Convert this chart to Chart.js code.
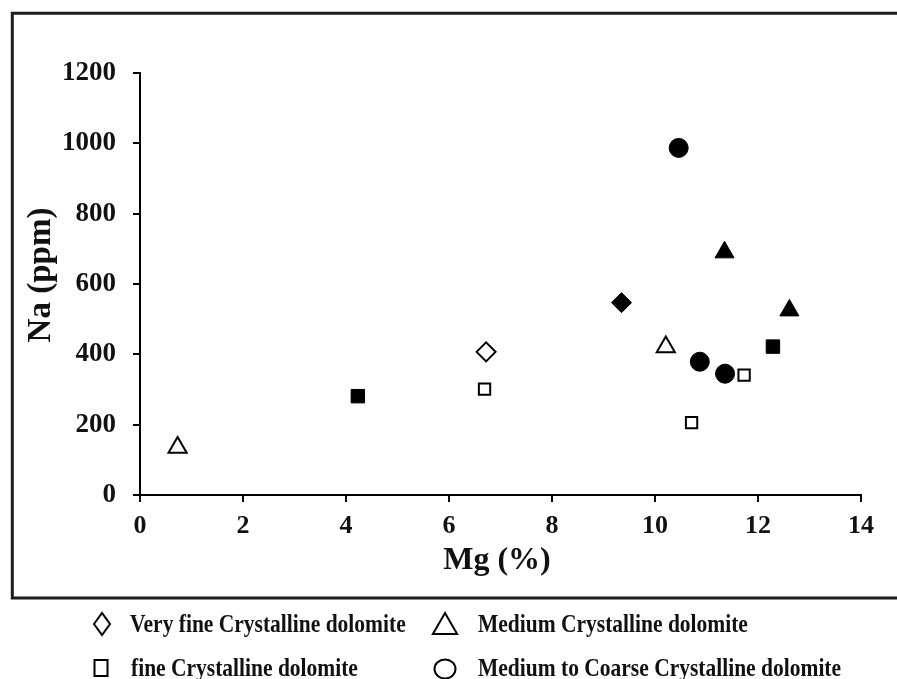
<!DOCTYPE html>
<html>
<head>
<meta charset="utf-8">
<script src="https://cdn.jsdelivr.net/npm/chart.js@4/dist/chart.umd.min.js"></script>
<style>
  html, body { margin: 0; padding: 0; background: #ffffff; }
  #wrap { width: 897px; height: 679px; position: relative; }
</style>
</head>
<body>
<div id="wrap"><canvas id="c" width="897" height="679"></canvas></div>
<script>
// Mg (%) vs Na (ppm) for the dolomite textures.
// Open symbols and solid symbols of each texture are kept as separate series.
const xTicks = [0, 2, 4, 6, 8, 10, 12, 14];
const yTicks = [0, 200, 400, 600, 800, 1000, 1200];

const veryFineOpenMg = [6.72];
const veryFineOpenNa = [407];
const veryFineSolidMg = [9.35];
const veryFineSolidNa = [547];

const fineOpenMg = [6.69, 10.71, 11.73];
const fineOpenNa = [301, 206, 341];
const fineSolidMg = [4.23, 12.29];
const fineSolidNa = [281, 422];

const mediumOpenMg = [0.73, 10.21];
const mediumOpenNa = [135, 421];
const mediumSolidMg = [11.35, 12.61];
const mediumSolidNa = [690, 525];

const coarseSolidMg = [10.46, 10.87, 11.36];
const coarseSolidNa = [987, 379, 345];

const legendNames = [
  'Very fine Crystalline dolomite',
  'Medium Crystalline dolomite',
  'fine Crystalline dolomite',
  'Medium to Coarse Crystalline dolomite'
];

const SERIF = '"Liberation Serif", "Times New Roman", Times, serif';
const INK = '#111111';

function pts(xs, ys) { return xs.map((x, i) => ({ x: x, y: ys[i] })); }

function series(label, xs, ys, style, radius, solid) {
  return {
    label: label,
    data: pts(xs, ys),
    pointStyle: style,
    pointRadius: radius,
    pointHoverRadius: radius,
    backgroundColor: solid ? '#000000' : '#ffffff',
    borderColor: '#000000',
    borderWidth: solid ? 1 : 2,
    showLine: false
  };
}

const datasets = [
  series(legendNames[0], veryFineOpenMg, veryFineOpenNa, 'rectRot', 9.5, false),
  series(legendNames[0] + ' (solid)', veryFineSolidMg, veryFineSolidNa, 'rectRot', 10, true),
  series(legendNames[2], fineOpenMg, fineOpenNa, 'rect', 8, false),
  series(legendNames[2] + ' (solid)', fineSolidMg, fineSolidNa, 'rect', 9.5, true),
  series(legendNames[1], mediumOpenMg, mediumOpenNa, 'triangle', 10.5, false),
  series(legendNames[1] + ' (solid)', mediumSolidMg, mediumSolidNa, 'triangle', 11, true),
  series(legendNames[3] + ' (solid)', coarseSolidMg, coarseSolidNa, 'circle', 9.5, true)
];

// Frame around the plot (its right side runs off the canvas).
const framePlugin = {
  id: 'frame',
  beforeDraw(chart) {
    const ctx = chart.ctx;
    ctx.save();
    ctx.fillStyle = '#ffffff';
    ctx.fillRect(0, 0, chart.width, chart.height);
    ctx.strokeStyle = '#1c1c1c';
    ctx.lineWidth = 3;
    ctx.beginPath();
    ctx.moveTo(chart.width, 13.3);
    ctx.lineTo(12.3, 13.3);
    ctx.lineTo(12.3, 598);
    ctx.lineTo(chart.width, 598);
    ctx.stroke();
    ctx.restore();
  }
};

// Axis titles.
const titlePlugin = {
  id: 'axisTitles',
  afterDraw(chart) {
    const ctx = chart.ctx;
    ctx.save();
    ctx.fillStyle = INK;
    ctx.textAlign = 'center';
    ctx.textBaseline = 'middle';
    ctx.font = 'bold 32px ' + SERIF;
    ctx.fillText('Mg (%)', 497, 561);
    ctx.translate(41, 275);
    ctx.rotate(-Math.PI / 2);
    ctx.font = 'bold 33px ' + SERIF;
    ctx.fillText('Na (ppm)', 0, 0);
    ctx.restore();
  }
};

// Two-column key below the frame.
const keyPlugin = {
  id: 'key',
  afterDraw(chart) {
    const ctx = chart.ctx;
    ctx.save();
    ctx.strokeStyle = '#000000';
    ctx.fillStyle = '#ffffff';
    ctx.lineWidth = 2;

    // diamond
    ctx.beginPath();
    ctx.moveTo(102 - 8, 624);
    ctx.lineTo(102, 624 - 11);
    ctx.lineTo(102 + 8, 624);
    ctx.lineTo(102, 624 + 11);
    ctx.closePath();
    ctx.fill(); ctx.stroke();

    // triangle
    const tr = 14;
    ctx.beginPath();
    ctx.moveTo(445, 627 - tr);
    ctx.lineTo(445 + tr * Math.sqrt(3) / 2, 627 + tr / 2);
    ctx.lineTo(445 - tr * Math.sqrt(3) / 2, 627 + tr / 2);
    ctx.closePath();
    ctx.fill(); ctx.stroke();

    // square
    ctx.beginPath();
    ctx.rect(101 - 6.5, 668 - 8, 13, 16);
    ctx.fill(); ctx.stroke();

    // circle
    ctx.beginPath();
    ctx.ellipse(445, 669, 10.5, 9.5, 0, 0, Math.PI * 2);
    ctx.fill(); ctx.stroke();

    ctx.fillStyle = INK;
    ctx.font = 'bold 25px ' + SERIF;
    ctx.textAlign = 'left';
    ctx.textBaseline = 'alphabetic';
    const entries = [
      [legendNames[0], 130, 631.5],
      [legendNames[1], 478, 631.5],
      [legendNames[2], 131, 676],
      [legendNames[3], 478, 676]
    ];
    entries.forEach(([t, x, y]) => {
      ctx.save();
      ctx.translate(x, y);
      ctx.scale(0.86, 1);
      ctx.fillText(t, 0, 0);
      ctx.restore();
    });
    ctx.restore();
  }
};

new Chart(document.getElementById('c'), {
  type: 'scatter',
  data: { datasets: datasets },
  options: {
    responsive: false,
    animation: false,
    events: [],
    layout: { padding: { left: 12, right: 36, top: 73, bottom: 82 } },
    plugins: {
      legend: { display: false },
      tooltip: { enabled: false }
    },
    scales: {
      x: {
        type: 'linear',
        min: xTicks[0],
        max: xTicks[xTicks.length - 1],
        afterBuildTicks(scale) { scale.ticks = xTicks.map(v => ({ value: v })); },
        afterFit(scale) { scale.height = 102; },
        border: { display: true, color: '#000000', width: 2 },
        grid: { display: true, drawOnChartArea: false, drawTicks: true, tickLength: 7, color: '#000000', lineWidth: 2 },
        ticks: {
          padding: 9,
          color: INK,
          font: { family: SERIF, size: 26, weight: 'bold' },
          maxRotation: 0,
          callback: v => String(v)
        }
      },
      y: {
        type: 'linear',
        min: yTicks[0],
        max: yTicks[yTicks.length - 1],
        afterBuildTicks(scale) { scale.ticks = yTicks.map(v => ({ value: v })); },
        afterFit(scale) { scale.width = 128; },
        border: { display: true, color: '#000000', width: 2 },
        grid: { display: true, drawOnChartArea: false, drawTicks: true, tickLength: 7, color: '#000000', lineWidth: 2 },
        ticks: {
          padding: 17,
          color: INK,
          font: { family: SERIF, size: 27, weight: 'bold' },
          callback: v => String(v)
        }
      }
    }
  },
  plugins: [framePlugin, titlePlugin, keyPlugin]
});
</script>
</body>
</html>
